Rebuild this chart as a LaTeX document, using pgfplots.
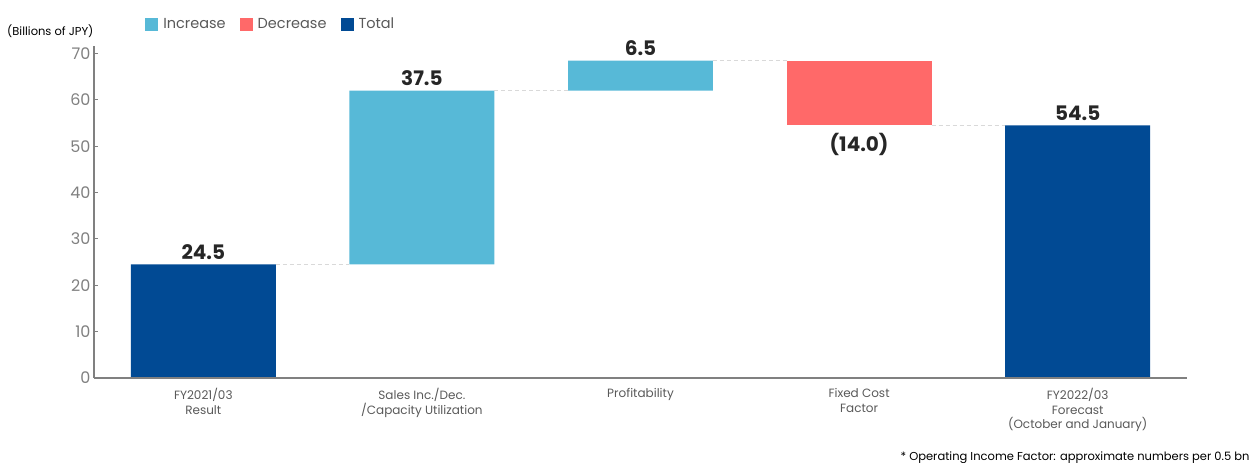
\documentclass[border=0pt]{standalone}
\usepackage{fontspec}
\setmainfont{Poppins}
\usepackage{pgfplots}
\pgfplotsset{compat=1.18}
\definecolor{inc}{HTML}{57B9D7}
\definecolor{dec}{HTML}{FF6969}
\definecolor{tot}{HTML}{014A94}
\definecolor{axgray}{HTML}{808080}
\definecolor{txtgray}{HTML}{595959}
\definecolor{lblc}{HTML}{262626}
\definecolor{dashc}{HTML}{D9D9D9}
\pgfplotsset{
  geom/.style={at={(94pt,85pt)}, anchor=south west,
    scale only axis, width=1093pt, height=332.3pt,
    xmin=-0.5, xmax=4.5, ymin=0, ymax=71.7},
  conn/.style={dashc, line width=1pt, dash pattern=on 4pt off 3pt, mark=none},
}
\begin{document}
\begin{tikzpicture}
\path[use as bounding box] (0,0) rectangle (1256pt,463pt);
\begin{axis}[
  geom,
  ybar stacked, bar width=0.663,
  axis x line=bottom, axis y line=left,
  axis line style={-, axgray, line width=1.3pt},
  axis on top,
  xtick={0,1,2,3,4},
  xticklabels={{FY2021/03\\Result},{Sales Inc./Dec.\\/Capacity Utilization},{Profitability},{Fixed Cost\\Factor},{FY2022/03\\Forecast\\(October and January)}},
  xticklabel style={align=center, font=\fontsize{12}{14.5}\selectfont, text=txtgray, yshift=-7pt},
  x tick style={draw=none},
  ytick={0,10,...,70},
  yticklabel style={font=\fontsize{16}{18}\selectfont, text=axgray},
  y tick style={axgray, line width=1pt},
  tick align=inside, major tick length=4pt,
  /pgf/number format/assume math mode=true,
  legend columns=3,
  legend style={at={(0.044,1.065)}, anchor=west, draw=none, fill=none,
    font=\fontsize{14.5}{18}\selectfont, text=txtgray,
    /tikz/every odd column/.append style={column sep=3pt},
    /tikz/every even column/.append style={column sep=12pt}},
  legend image code/.code={\fill[#1] (0pt,-6.5pt) rectangle (13pt,6.5pt);},
]
\addplot[draw=none, fill=none, forget plot] coordinates {(0,0) (1,24.5) (2,62) (3,54.5) (4,0)};
\addplot[draw=none, fill=inc] coordinates {(0,0) (1,37.5) (2,6.5) (3,0) (4,0)};
\addplot[draw=none, fill=dec] coordinates {(0,0) (1,0) (2,0) (3,14) (4,0)};
\addplot[draw=none, fill=tot] coordinates {(0,24.5) (1,0) (2,0) (3,0) (4,54.5)};
\legend{Increase, Decrease, Total}
\end{axis}
\begin{axis}[geom, hide axis]
\addplot[conn] coordinates {(0.3315,24.5) (0.6685,24.5)};
\addplot[conn] coordinates {(1.3315,62) (1.6685,62)};
\addplot[conn] coordinates {(2.3315,68.5) (2.6685,68.5)};
\addplot[conn] coordinates {(3.3315,54.5) (3.6685,54.5)};
\addplot[draw=none, mark=none,
  nodes near coords, point meta=explicit symbolic,
  every node near coord/.style={anchor=south, yshift=1pt, font=\fontsize{20}{24}\selectfont\bfseries, text=lblc}]
  table[meta=label] {
x y label
0 24.5 24.5
1 62 37.5
2 68.5 6.5
4 54.5 54.5
};
\addplot[draw=none, mark=none,
  nodes near coords, point meta=explicit symbolic,
  every node near coord/.style={anchor=north, yshift=-4pt, font=\fontsize{20}{24}\selectfont\bfseries, text=lblc}]
  table[meta=label] {
x y label
3 54.5 (14.0)
};
\end{axis}
\node[anchor=east, font=\fontsize{11.5}{14}\selectfont, text=black] at (97pt,432pt) {(Billions of JPY)};
\node[anchor=base east, font=\fontsize{11.5}{14}\selectfont, text=black] at (1253pt,2.5pt) {* Operating Income Factor: approximate numbers per 0.5 bn};
\end{tikzpicture}
\end{document}
